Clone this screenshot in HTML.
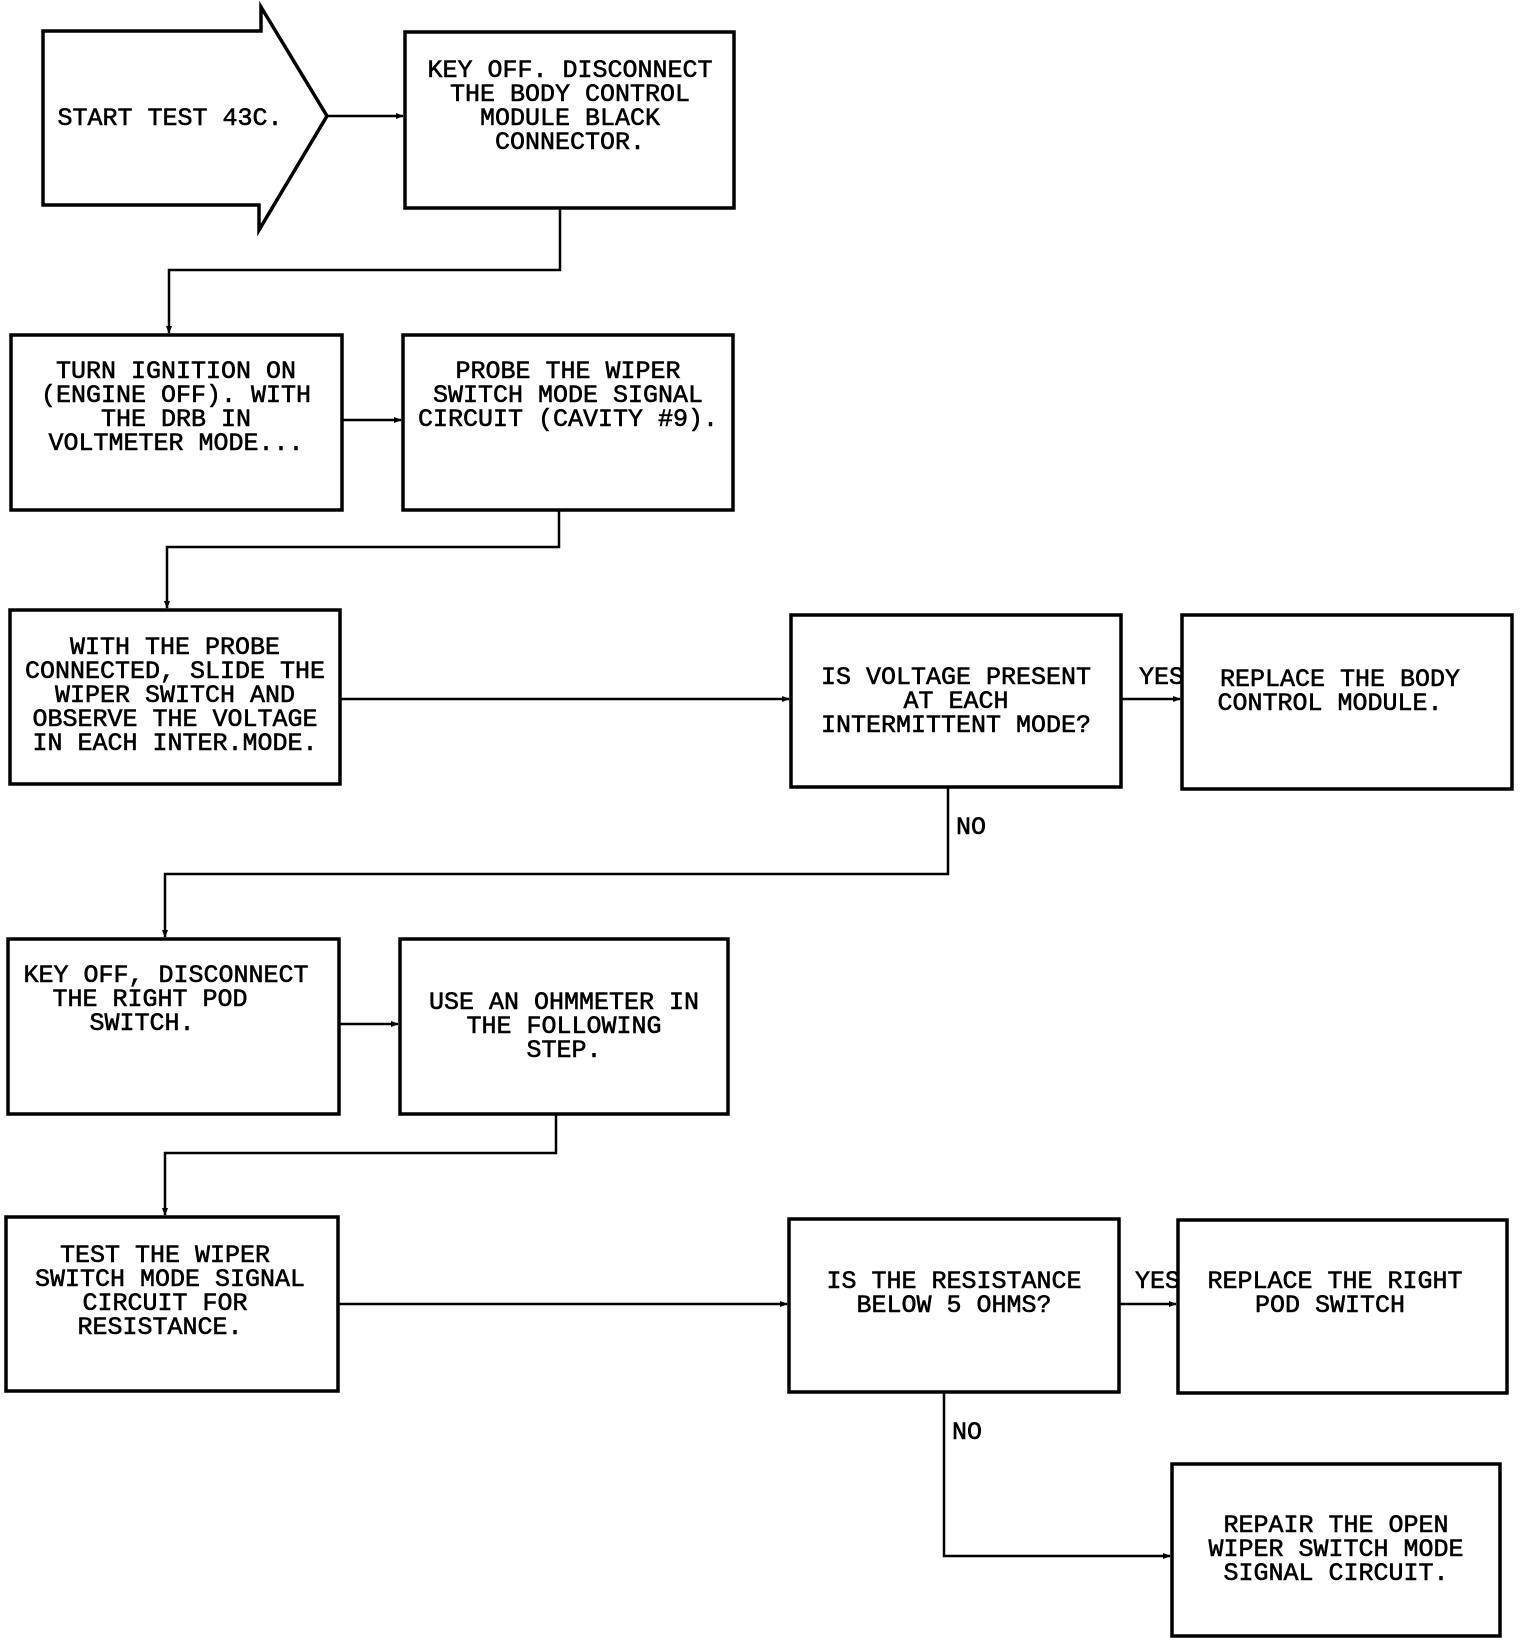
<!DOCTYPE html>
<html><head><meta charset="utf-8"><style>
html,body{margin:0;padding:0;background:#fff;}
svg{display:block;}
text{font-family:"Liberation Mono",monospace;font-size:25px;fill:#000;text-anchor:middle;stroke:#000;stroke-width:0.6;}
.l{text-anchor:start;}
</style></head><body>
<svg width="1520" height="1648" viewBox="0 0 1520 1648" xmlns="http://www.w3.org/2000/svg">
<defs><marker id="a" markerWidth="8" markerHeight="8" refX="7" refY="4" orient="auto" markerUnits="userSpaceOnUse"><path d="M0,1 L8,4 L0,7 z" fill="#000"/></marker></defs>
<g fill="none" stroke="#000" stroke-width="3.5">
<path d="M43,31 L261,31 L261,7 L327,116 L259,230 L259,205 L43,205 Z"/>
<rect x="405" y="32" width="329" height="176"/>
<rect x="11" y="335" width="331" height="175"/>
<rect x="403" y="335" width="330" height="175"/>
<rect x="10" y="610" width="330" height="174"/>
<rect x="791" y="615" width="330" height="172"/>
<rect x="1182" y="615" width="330" height="174"/>
<rect x="8" y="939" width="331" height="175"/>
<rect x="400" y="939" width="328" height="175"/>
<rect x="6" y="1217" width="332" height="174"/>
<rect x="789" y="1219" width="330" height="173"/>
<rect x="1178" y="1220" width="329" height="173"/>
<rect x="1172" y="1464" width="328" height="172"/>
</g>
<g fill="none" stroke="#000" stroke-width="2.5">
<path d="M327,116 L403,116" marker-end="url(#a)"/>
<path d="M560,208 L560,270 L169,270 L169,333" marker-end="url(#a)"/>
<path d="M342,420 L401,420" marker-end="url(#a)"/>
<path d="M559,510 L559,547 L167,547 L167,608" marker-end="url(#a)"/>
<path d="M340,699 L789,699" marker-end="url(#a)"/>
<path d="M1121,699 L1180,699" marker-end="url(#a)"/>
<path d="M948,787 L948,874 L165,874 L165,937" marker-end="url(#a)"/>
<path d="M339,1024 L398,1024" marker-end="url(#a)"/>
<path d="M556,1114 L556,1153 L165,1153 L165,1215" marker-end="url(#a)"/>
<path d="M338,1304 L787,1304" marker-end="url(#a)"/>
<path d="M1119,1304 L1176,1304" marker-end="url(#a)"/>
<path d="M944,1392 L944,1556 L1170,1556" marker-end="url(#a)"/>
</g>
<text x="170" y="125">START TEST 43C.</text>
<text x="570" y="77">KEY OFF. DISCONNECT</text>
<text x="570" y="101">THE BODY CONTROL</text>
<text x="570" y="125">MODULE BLACK</text>
<text x="570" y="149">CONNECTOR.</text>
<text x="176" y="378">TURN IGNITION ON</text>
<text x="176" y="402">(ENGINE OFF). WITH</text>
<text x="176" y="426">THE DRB IN</text>
<text x="176" y="450">VOLTMETER MODE...</text>
<text x="568" y="378">PROBE THE WIPER</text>
<text x="568" y="402">SWITCH MODE SIGNAL</text>
<text x="568" y="426">CIRCUIT (CAVITY #9).</text>
<text x="175" y="654">WITH THE PROBE</text>
<text x="175" y="678">CONNECTED, SLIDE THE</text>
<text x="175" y="702">WIPER SWITCH AND</text>
<text x="175" y="726">OBSERVE THE VOLTAGE</text>
<text x="175" y="750">IN EACH INTER.MODE.</text>
<text x="956" y="684">IS VOLTAGE PRESENT</text>
<text x="956" y="708">AT EACH</text>
<text x="956" y="732">INTERMITTENT MODE?</text>
<text x="1340" y="686">REPLACE THE BODY</text>
<text x="1330" y="710">CONTROL MODULE.</text>
<text class="l" x="1139" y="684">YES</text>
<text class="l" x="956" y="834">NO</text>
<text x="166" y="982">KEY OFF, DISCONNECT</text>
<text x="150" y="1006">THE RIGHT POD</text>
<text x="142" y="1030">SWITCH.</text>
<text x="564" y="1009">USE AN OHMMETER IN</text>
<text x="564" y="1033">THE FOLLOWING</text>
<text x="564" y="1057">STEP.</text>
<text x="165" y="1262">TEST THE WIPER</text>
<text x="170" y="1286">SWITCH MODE SIGNAL</text>
<text x="165" y="1310">CIRCUIT FOR</text>
<text x="160" y="1334">RESISTANCE.</text>
<text x="954" y="1288">IS THE RESISTANCE</text>
<text x="954" y="1312">BELOW 5 OHMS?</text>
<text x="1335" y="1288">REPLACE THE RIGHT</text>
<text x="1330" y="1312">POD SWITCH</text>
<text class="l" x="1135" y="1288">YES</text>
<text class="l" x="952" y="1439">NO</text>
<text x="1336" y="1532">REPAIR THE OPEN</text>
<text x="1336" y="1556">WIPER SWITCH MODE</text>
<text x="1336" y="1580">SIGNAL CIRCUIT.</text>
</svg>
</body></html>
